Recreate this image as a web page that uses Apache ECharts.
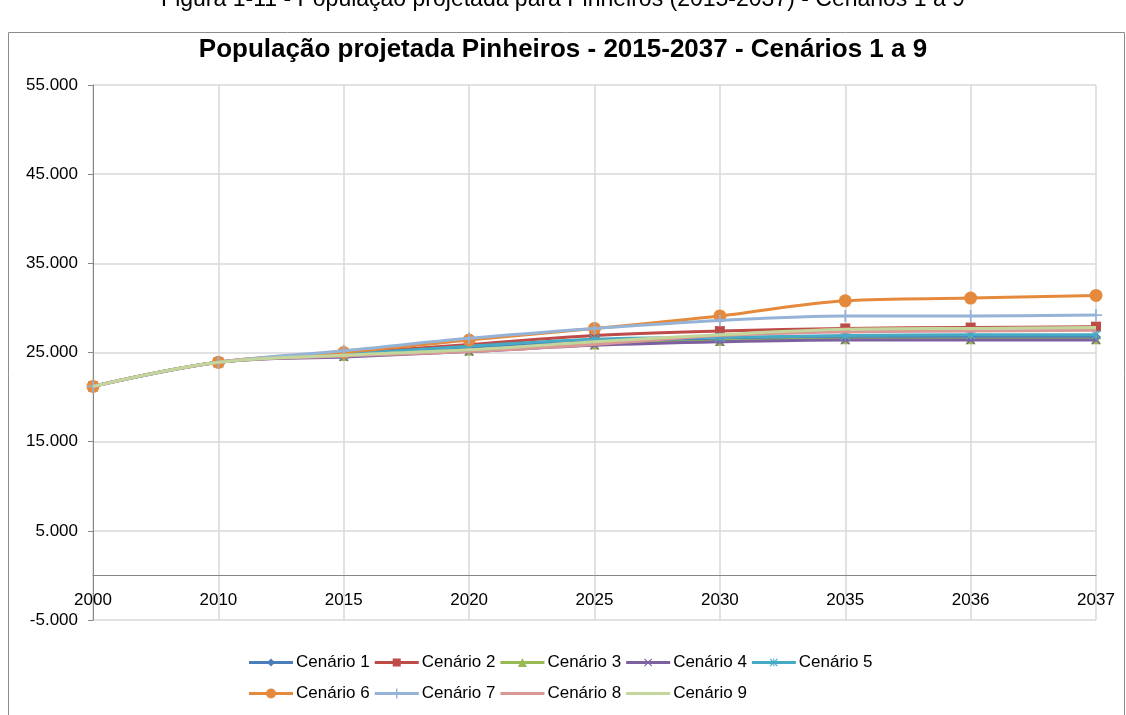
<!DOCTYPE html>
<html>
<head>
<meta charset="utf-8">
<script src="https://cdn.jsdelivr.net/npm/echarts@6/dist/echarts.min.js"></script>
<style>
html,body{margin:0;padding:0;background:#fff;}
#c{width:1126px;height:715px;}
</style>
</head>
<body>
<div id="c"></div>
<script>
const years = ['2000','2010','2015','2020','2025','2030','2035','2036','2037'];
const cen1 = [21200, 23900, 24800, 25600, 26200, 26400, 26700, 26700, 26700];
const cen2 = [21200, 23900, 24900, 25900, 26900, 27400, 27700, 27800, 27900];
const cen3 = [21200, 23900, 24600, 25200, 25900, 26300, 26500, 26500, 26500];
const cen4 = [21200, 23900, 24500, 25100, 25800, 26200, 26400, 26400, 26400];
const cen5 = [21200, 23900, 24800, 25700, 26500, 26700, 26900, 27000, 27000];
const cen6 = [21200, 23900, 25000, 26400, 27700, 29100, 30800, 31100, 31400];
const cen7 = [21200, 23900, 25200, 26600, 27700, 28600, 29100, 29100, 29200];
const cen8 = [21200, 23900, 24600, 25100, 25900, 26900, 27300, 27400, 27500];
const cen9 = [21200, 23900, 24700, 25300, 26200, 27000, 27600, 27700, 27800];
const names = ['Cenário 1','Cenário 2','Cenário 3','Cenário 4','Cenário 5','Cenário 6','Cenário 7','Cenário 8','Cenário 9'];
const allData = [cen1, cen2, cen3, cen4, cen5, cen6, cen7, cen8, cen9];

const colors = ['#4A7EBB','#BE4B48','#98B954','#7D60A0','#46AAC5','#E58A3C','#95B3D7','#D99795','#C3D69B'];

// marker shapes as polygons in a 10x10 box
const SHAPES = {
  diamond: [[[5,0],[10,5],[5,10],[0,5]]],
  square: [[[0,0],[10,0],[10,10],[0,10]]],
  triangle: [[[5,0],[10,10],[0,10]]],
  x: [[[1,0],[5,4],[9,0],[10,1],[6,5],[10,9],[9,10],[5,6],[1,10],[0,9],[4,5],[0,1]]],
  ast: [[[1,0],[5,4],[9,0],[10,1],[6,5],[10,9],[9,10],[5,6],[1,10],[0,9],[4,5],[0,1]],
        [[4.4,0],[5.6,0],[5.6,10],[4.4,10]]],
  plus: [[[4.3,0],[5.7,0],[5.7,4.3],[10,4.3],[10,5.7],[5.7,5.7],[5.7,10],[4.3,10],[4.3,5.7],[0,5.7],[0,4.3],[4.3,4.3]]]
};
function polyPath(polys, s, ox, oy){
  return polys.map(p => 'M' + p.map(q => (q[0]*s+ox).toFixed(2)+','+(q[1]*s+oy).toFixed(2)).join(' L') + ' Z').join(' ');
}
function seriesSymbol(key){
  if (key === 'circle' || key === 'none') return key;
  return 'path://' + polyPath(SHAPES[key], 1, 0, 0);
}
const LW = 44, LH = 10;
function legendIcon(key, msize){
  let p = 'M0,0 L0.01,0 L0,0.01 Z M' + LW + ',' + LH + ' L' + (LW-0.01) + ',' + LH + ' L' + LW + ',' + (LH-0.01) + ' Z ';
  p += 'M0,3.5 L' + LW + ',3.5 L' + LW + ',6.5 L0,6.5 Z ';
  const cx = LW/2, cy = LH/2;
  if (key === 'circle') {
    const r = msize/2;
    p += 'M' + (cx+r) + ',' + cy + ' A' + r + ',' + r + ' 0 1,1 ' + (cx-r) + ',' + cy + ' A' + r + ',' + r + ' 0 1,1 ' + (cx+r) + ',' + cy + ' Z';
  } else if (key !== 'none') {
    const s = msize/10;
    p += polyPath(SHAPES[key], s, cx - msize/2, cy - msize/2);
  }
  return 'path://' + p;
}
const symKeys = ['diamond','square','triangle','x','ast','circle','plus','none','none'];
const symSizes = [10,10,10,9,10,13,12,0,0];
const legSizes = [8,8,9,8,8,10,10,0,0];

function fmt(v){
  const s = Math.abs(v).toString().replace(/\B(?=(\d{3})+(?!\d))/g,'.');
  return (v < 0 ? '-' : '') + s;
}

const chart = echarts.init(document.getElementById('c'));
const series = allData.map((d,i)=>({
  name: names[i],
  type: 'line',
  data: d,
  smooth: 0.35,
  symbol: seriesSymbol(symKeys[i]),
  symbolSize: symSizes[i],
  showSymbol: symKeys[i] !== 'none',
  lineStyle: {color: colors[i], width: 3},
  itemStyle: {color: colors[i], borderWidth: 0},
  z: 2 + i
}));

const FONT = '"Liberation Sans", Arial, sans-serif';
function legendData(from, to){
  const out = [];
  for (let i = from; i < to; i++) out.push({name: names[i], icon: legendIcon(symKeys[i], legSizes[i])});
  return out;
}
const legendBase = {
  left: 244, itemWidth: LW, itemHeight: LH, itemGap: 5,
  textStyle: {fontSize: 17, color: '#000', fontFamily: FONT, padding: [0,0,0,-2]}
};

chart.setOption({
  backgroundColor: '#fff',
  animation: false,
  color: colors,
  textStyle: {fontFamily: FONT},
  title: {
    text: 'População projetada Pinheiros - 2015-2037 - Cenários 1 a 9',
    left: 'center', top: 32,
    textStyle: {fontSize: 26, fontWeight: 'bold', color: '#000', fontFamily: FONT}
  },
  graphic: [
    {type: 'rect', shape: {x: 8.5, y: 32.5, width: 1116, height: 700}, style: {fill: 'none', stroke: '#8c8c8c', lineWidth: 1}, z: -10},
    {type: 'text', left: 'center', top: -12, style: {text: 'Figura 1-11 - População projetada para Pinheiros (2015-2037) - Cenários 1 a 9', fontSize: 23, fill: '#000', fontFamily: FONT}}
  ],
  legend: [
    Object.assign({}, legendBase, {top: 649, data: legendData(0,5)}),
    Object.assign({}, legendBase, {top: 680, data: legendData(5,9)})
  ],
  grid: {left: 93, right: 30, top: 85, bottom: 95, containLabel: false},
  xAxis: {
    type: 'category',
    data: years,
    boundaryGap: false,
    offset: -44.58,
    axisLine: {onZero: false, lineStyle: {color: '#868686', width: 1}},
    axisTick: {show: false},
    axisLabel: {fontSize: 17, color: '#000', margin: 16, fontFamily: FONT},
    splitLine: {show: true, lineStyle: {color: '#d9d9d9', width: 1.5}}
  },
  yAxis: {
    type: 'value',
    min: -5000, max: 55000, interval: 10000,
    axisLine: {show: true, onZero: false, lineStyle: {color: '#868686', width: 1}},
    axisTick: {show: true, length: 5, lineStyle: {color: '#868686'}},
    axisLabel: {fontSize: 17, color: '#000', margin: 15, formatter: fmt, fontFamily: FONT},
    splitLine: {show: true, lineStyle: {color: '#d9d9d9', width: 1.5}}
  },
  series: series
});
</script>
</body>
</html>
